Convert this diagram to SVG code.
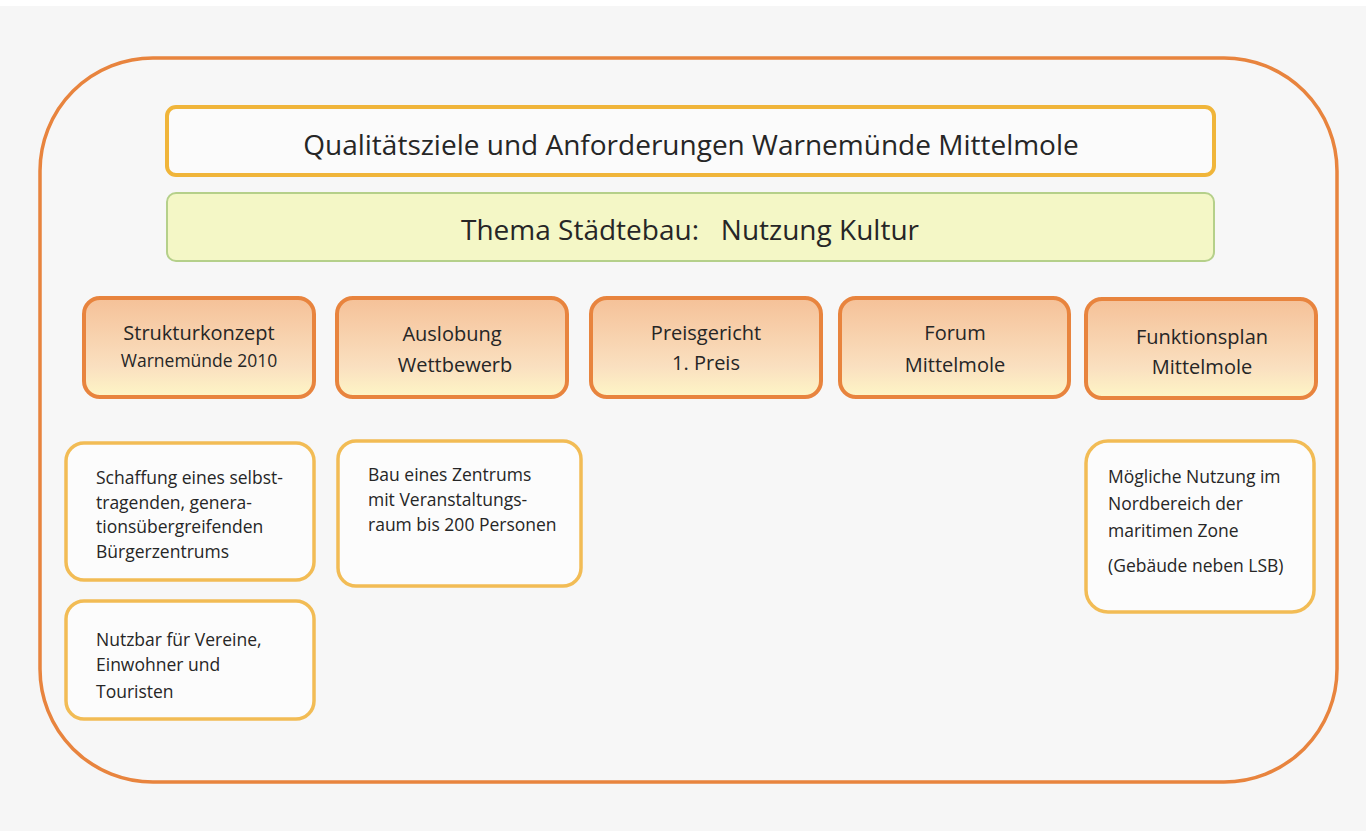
<svg xmlns="http://www.w3.org/2000/svg" width="1366" height="831" viewBox="0 0 1366 831">
<defs>
<linearGradient id="hg" x1="0" y1="0" x2="0" y2="1">
<stop offset="0" stop-color="#F5C198"/>
<stop offset="0.7" stop-color="#FAE0C0"/>
<stop offset="1" stop-color="#FEF6C6"/>
</linearGradient>
<style>
.t{font-family:"Open Sans","Liberation Sans",sans-serif;fill:#262626}
.big{font-size:28px;text-anchor:middle}
.hd{font-size:20px;text-anchor:middle}
.hs{font-size:17.5px;text-anchor:middle}
.sb{font-size:17.5px}
.hbox{fill:url(#hg);stroke:#E8843E;stroke-width:4}
.sbox{fill:#FCFCFC;stroke:#F2BC55;stroke-width:3.5}
</style>
</defs>
<rect x="0" y="0" width="1366" height="831" fill="#F6F6F6"/>
<rect x="0" y="0" width="1366" height="6" fill="#FFFFFF"/>
<g id="frame">
<rect x="40" y="58" width="1297" height="724" rx="113" ry="113" fill="#F7F7F7" stroke="#E8843E" stroke-width="3.5"/>
</g>
<g id="title">
<rect x="167" y="107" width="1047" height="68" rx="9" fill="#FBFBFB" stroke="#F0B53A" stroke-width="4"/>
<text class="t big" x="691" y="155">Qualitätsziele und Anforderungen Warnemünde Mittelmole</text>
</g>
<g id="thema">
<rect x="167" y="193" width="1047" height="68" rx="9" fill="#F4F7C6" stroke="#B5D08A" stroke-width="2"/>
<text class="t big" x="690" y="240" xml:space="preserve">Thema Städtebau:   Nutzung Kultur</text>
</g>
<g id="strukturkonzept">
<rect class="hbox" x="84" y="298" width="230" height="99" rx="16"/>
<text class="t hd" x="199" y="340">Strukturkonzept</text>
<text class="t hs" x="199" y="367">Warnemünde 2010</text>
</g>
<g id="auslobung">
<rect class="hbox" x="337" y="298" width="230" height="99" rx="16"/>
<text class="t hd" x="452" y="341">Auslobung</text>
<text class="t hd" x="455" y="372">Wettbewerb</text>
</g>
<g id="preisgericht">
<rect class="hbox" x="591" y="298" width="230" height="99" rx="16"/>
<text class="t hd" x="706" y="340">Preisgericht</text>
<text class="t hd" x="706" y="370">1. Preis</text>
</g>
<g id="forum">
<rect class="hbox" x="840" y="298" width="229" height="99" rx="16"/>
<text class="t hd" x="955" y="340">Forum</text>
<text class="t hd" x="955" y="372">Mittelmole</text>
</g>
<g id="funktionsplan">
<rect class="hbox" x="1086" y="299" width="230" height="99" rx="16"/>
<text class="t hd" x="1202" y="344">Funktionsplan</text>
<text class="t hd" x="1202" y="374">Mittelmole</text>
</g>
<g id="schaffung">
<rect class="sbox" x="66" y="443" width="248" height="137" rx="18"/>
<text class="t sb" x="96" y="484">Schaffung eines selbst-</text>
<text class="t sb" x="96" y="509">tragenden, genera-</text>
<text class="t sb" x="96" y="533">tionsübergreifenden</text>
<text class="t sb" x="96" y="558">Bürgerzentrums</text>
</g>
<g id="nutzbar">
<rect class="sbox" x="66" y="601" width="248" height="118" rx="18"/>
<text class="t sb" x="96" y="646">Nutzbar für Vereine,</text>
<text class="t sb" x="96" y="671">Einwohner und</text>
<text class="t sb" x="96" y="698">Touristen</text>
</g>
<g id="bau">
<rect class="sbox" x="338" y="441" width="243" height="145" rx="18"/>
<text class="t sb" x="368" y="481">Bau eines Zentrums</text>
<text class="t sb" x="368" y="506">mit Veranstaltungs-</text>
<text class="t sb" x="368" y="531">raum bis 200 Personen</text>
</g>
<g id="moegliche">
<rect class="sbox" x="1086" y="441" width="228" height="171" rx="22"/>
<text class="t sb" x="1108" y="483">Mögliche Nutzung im</text>
<text class="t sb" x="1108" y="510">Nordbereich der</text>
<text class="t sb" x="1108" y="537">maritimen Zone</text>
<text class="t sb" x="1108" y="572">(Gebäude neben LSB)</text>
</g>
<g id="connectors"></g>
</svg>
